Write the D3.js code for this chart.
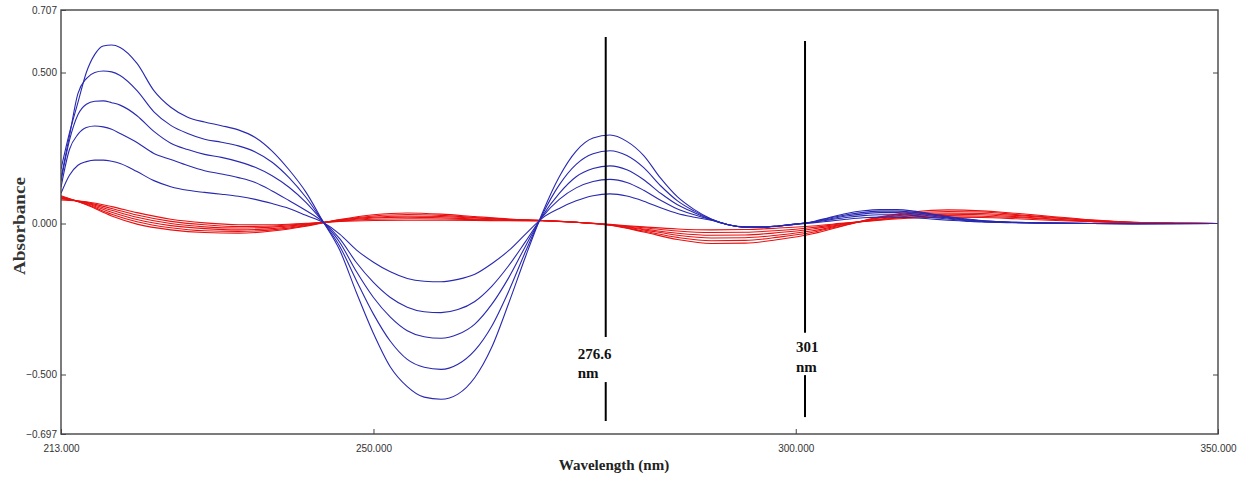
<!DOCTYPE html>
<html><head><meta charset="utf-8">
<script src="https://cdn.jsdelivr.net/npm/d3@7"></script>
<style>body{margin:0;background:#fff}</style>
</head><body>
<svg id="c" width="1244" height="477"></svg>
<script>
// ---- data ----
const wavelengths = [213,214,215,216,217,218,219,220,
 222,224,226,228,230,232,234,236,238,240,
 242,244,246,248,250,252,254,256,258,260,
 262,264,266,268,270,272,274,276,278,280,
 282,284,286,288,290,292,294,296,298,300,
 302,304,306,308,310,312,314,316,318,320,
 322,325,330,335,340,350];

const blue1 = [0.10,0.16,0.193,0.205,0.21,0.21,0.206,0.199,
 0.172,0.142,0.122,0.110,0.103,0.097,0.090,0.080,0.066,0.050,
 0.027,0.004,-0.035,-0.088,-0.128,-0.160,-0.182,-0.191,-0.193,-0.185,
 -0.168,-0.133,-0.090,-0.035,0.018,0.050,0.075,0.092,0.098,0.091,
 0.074,0.052,0.033,0.021,0.011,-0.004,-0.011,-0.012,-0.008,-0.003,
 0.002,0.008,0.014,0.019,0.021,0.021,0.019,0.015,0.011,0.008,
 0.005,0.003,0.001,0,-0.001,0];
const blue2 = [0.12,0.245,0.295,0.318,0.323,0.32,0.312,0.298,
 0.268,0.232,0.212,0.192,0.175,0.164,0.152,0.136,0.108,0.076,
 0.043,0.006,-0.05,-0.13,-0.195,-0.245,-0.277,-0.292,-0.295,-0.285,
 -0.258,-0.208,-0.14,-0.06,0.022,0.08,0.118,0.139,0.146,0.136,
 0.11,0.077,0.048,0.029,0.012,-0.004,-0.012,-0.012,-0.008,-0.002,
 0.004,0.012,0.02,0.026,0.029,0.029,0.026,0.02,0.015,0.01,
 0.007,0.004,0.001,0,-0.001,0];
const blue3 = [0.14,0.275,0.36,0.395,0.405,0.406,0.40,0.392,
 0.357,0.305,0.266,0.245,0.229,0.219,0.205,0.186,0.158,0.12,
 0.07,0.007,-0.062,-0.16,-0.245,-0.31,-0.355,-0.375,-0.38,-0.367,
 -0.333,-0.268,-0.18,-0.075,0.025,0.10,0.155,0.182,0.191,0.178,
 0.145,0.10,0.062,0.036,0.013,-0.004,-0.012,-0.012,-0.008,-0.002,
 0.005,0.015,0.025,0.032,0.036,0.036,0.032,0.025,0.018,0.012,
 0.008,0.004,0.001,0,-0.001,0];
const blue4 = [0.15,0.29,0.43,0.48,0.50,0.505,0.502,0.49,
 0.44,0.37,0.325,0.298,0.279,0.269,0.257,0.237,0.203,0.152,
 0.087,0.007,-0.075,-0.19,-0.30,-0.39,-0.45,-0.476,-0.483,-0.466,
 -0.42,-0.34,-0.225,-0.093,0.03,0.128,0.196,0.231,0.241,0.225,
 0.185,0.125,0.075,0.041,0.014,-0.004,-0.012,-0.012,-0.008,-0.002,
 0.005,0.018,0.029,0.037,0.041,0.041,0.037,0.029,0.021,0.014,
 0.009,0.005,0.002,0,-0.001,0];
const blue5 = [0.18,0.30,0.40,0.50,0.56,0.588,0.591,0.583,
 0.53,0.44,0.385,0.352,0.336,0.324,0.31,0.285,0.24,0.178,
 0.104,0.008,-0.088,-0.23,-0.364,-0.475,-0.54,-0.575,-0.582,-0.565,
 -0.51,-0.41,-0.265,-0.11,0.035,0.155,0.24,0.283,0.293,0.272,
 0.225,0.15,0.088,0.046,0.015,-0.004,-0.012,-0.012,-0.008,-0.002,
 0.006,0.02,0.033,0.042,0.046,0.046,0.041,0.032,0.023,0.016,
 0.010,0.005,0.002,0,-0.001,0];

const redWavelengths = [213,216,219,222,226,230,234,238,242,246,250,254,258,262,266,270,274,278,282,286,290,294,298,302,306,310,314,318,322,326,330,335,340,345,350];
const red1 = [0.078,0.072,0.056,0.036,0.014,0.002,-0.004,-0.004,0.001,0.007,0.010,0.011,0.011,0.010,0.009,0.009,0.004,-0.003,-0.011,-0.018,-0.021,-0.020,-0.015,-0.008,0.002,0.011,0.018,0.021,0.020,0.016,0.011,0.006,0.002,0.001,0];
const red2 = [0.081,0.070,0.050,0.028,0.007,-0.004,-0.010,-0.008,-0.001,0.008,0.014,0.016,0.015,0.013,0.010,0.009,0.004,-0.004,-0.014,-0.025,-0.030,-0.029,-0.023,-0.013,0.001,0.013,0.022,0.026,0.024,0.020,0.014,0.007,0.002,0.001,0];
const red3 = [0.084,0.068,0.044,0.021,0.000,-0.011,-0.015,-0.012,-0.003,0.009,0.018,0.021,0.019,0.015,0.011,0.009,0.004,-0.004,-0.018,-0.032,-0.039,-0.038,-0.030,-0.018,-0.001,0.015,0.026,0.031,0.029,0.023,0.016,0.008,0.003,0.001,0];
const red4 = [0.086,0.066,0.037,0.013,-0.007,-0.017,-0.021,-0.017,-0.005,0.011,0.021,0.025,0.023,0.018,0.013,0.010,0.004,-0.005,-0.021,-0.039,-0.048,-0.047,-0.038,-0.024,-0.002,0.018,0.031,0.035,0.033,0.027,0.019,0.010,0.003,0.001,0];
const red5 = [0.089,0.064,0.031,0.006,-0.014,-0.024,-0.026,-0.021,-0.007,0.012,0.025,0.030,0.027,0.020,0.014,0.010,0.004,-0.005,-0.025,-0.046,-0.057,-0.056,-0.045,-0.029,-0.004,0.020,0.035,0.040,0.038,0.030,0.021,0.011,0.004,0.001,0];
const red6 = [0.092,0.062,0.025,-0.002,-0.021,-0.030,-0.032,-0.025,-0.009,0.013,0.029,0.035,0.031,0.023,0.015,0.010,0.004,-0.006,-0.028,-0.053,-0.066,-0.065,-0.053,-0.034,-0.005,0.022,0.039,0.045,0.042,0.034,0.024,0.012,0.004,0.001,0];

const yTickValues = [0.707, 0.5, 0, -0.5, -0.697];
const xTickValues = [213, 250, 300, 350];
const markerWavelengths = [277.5, 301.1];
const markerLabels = ["276.6", "301"];

// ---- drawing ----
const svg = d3.select("#c");
const L = 61, R = 1218, T = 10, B = 434;
const x = d3.scaleLinear().domain([213, 350]).range([L, R]);
const y = d3.scaleLinear().domain([-0.697, 0.707]).range([B, T]);

svg.append("rect").attr("width",1244).attr("height",477).attr("fill","#fff");
svg.append("defs").append("clipPath").attr("id","clip")
  .append("rect").attr("x",L).attr("y",T).attr("width",R-L).attr("height",B-T);

const plot = svg.append("g").attr("clip-path","url(#clip)");
const line = (xs) => d3.line().x((d,i)=>x(xs[i])).y(d=>y(d)).curve(d3.curveMonotoneX);

[red1,red2,red3,red4,red5,red6].forEach(s=>{
  plot.append("path").attr("d", line(redWavelengths)(s))
    .attr("fill","none").attr("stroke","#e81010").attr("stroke-width",1.1);
});
[blue1,blue2,blue3,blue4,blue5].forEach(s=>{
  plot.append("path").attr("d", line(wavelengths)(s))
    .attr("fill","none").attr("stroke","#2828b0").attr("stroke-width",1.1);
});

// frame
svg.append("rect").attr("x",L).attr("y",T).attr("width",R-L).attr("height",B-T)
  .attr("fill","none").attr("stroke","#444").attr("stroke-width",1.4);

const tickFont = "'Liberation Sans', Arial, sans-serif";
const yAxis = svg.append("g").attr("transform",`translate(${L},0)`)
  .call(d3.axisLeft(y).tickValues(yTickValues).tickFormat(d3.format(".3f")).tickSizeInner(-5).tickSizeOuter(0).tickPadding(4));
const xAxis = svg.append("g").attr("transform",`translate(0,${B})`)
  .call(d3.axisBottom(x).tickValues(xTickValues).tickFormat(d3.format(".3f")).tickSizeInner(-5).tickSizeOuter(0).tickPadding(11));
const rAxis = svg.append("g").attr("transform",`translate(${R},0)`)
  .call(d3.axisRight(y).tickValues([0.5,-0.5]).tickFormat("").tickSizeInner(-5).tickSizeOuter(0));
[yAxis,xAxis,rAxis].forEach(g=>{
  g.select(".domain").remove();
  g.selectAll("line").attr("stroke","#444");
  g.selectAll("text").attr("fill","#333").style("font-family",tickFont).style("font-size","10px");
});

const serif = "'Liberation Serif','Times New Roman',serif";
svg.append("text").attr("transform","translate(25,226) rotate(-90)")
  .attr("text-anchor","middle").style("font-family",serif).style("font-weight","bold")
  .style("font-size","17px").attr("fill","#333")
  .attr("textLength",98).attr("lengthAdjust","spacingAndGlyphs").text("Absorbance");
svg.append("text").attr("x",614).attr("y",470).attr("text-anchor","middle")
  .style("font-family",serif).style("font-weight","bold").style("font-size","15px")
  .attr("fill","#222").text("Wavelength (nm)");

// marker lines
const markerSeg = [
  {top:0.618, mid:-0.376, lo1:-0.525, lo2:-0.654, lab:-0.450, nm:-0.513},
  {top:0.604, mid:-0.362, lo1:-0.502, lo2:-0.641, lab:-0.427, nm:-0.493}
];
markerWavelengths.forEach((w,i)=>{
  const s = markerSeg[i], xp = x(w);
  svg.append("line").attr("x1",xp).attr("x2",xp).attr("y1",y(s.top)).attr("y2",y(s.mid))
    .attr("stroke","#000").attr("stroke-width",2);
  svg.append("line").attr("x1",xp).attr("x2",xp).attr("y1",y(s.lo1)).attr("y2",y(s.lo2))
    .attr("stroke","#000").attr("stroke-width",2);
  const tx = i===0 ? xp-28 : xp-9;
  svg.append("text").attr("x",tx).attr("y",y(s.lab)).style("font-family",serif)
    .style("font-weight","bold").style("font-size","15px").attr("fill","#111").text(markerLabels[i]);
  svg.append("text").attr("x",tx).attr("y",y(s.nm)).style("font-family",serif)
    .style("font-weight","bold").style("font-size","15px").attr("fill","#111").text("nm");
});
</script>
</body></html>
